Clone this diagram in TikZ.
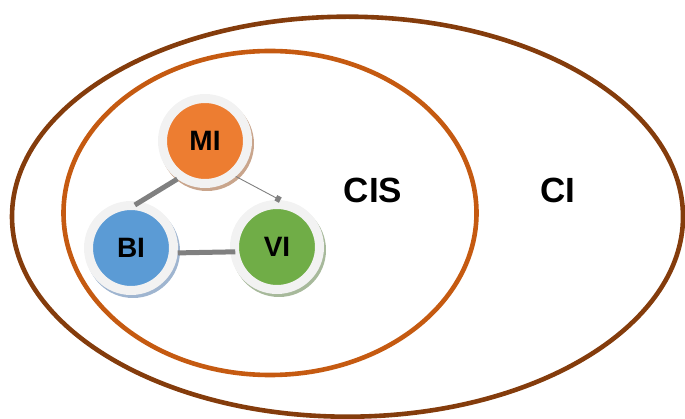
\documentclass[tikz,border=0pt]{standalone}
\usepackage{fontspec}
\setmainfont{Liberation Sans}
\usetikzlibrary{backgrounds,arrows.meta}
\definecolor{outerbrown}{HTML}{843C0C}
\definecolor{innerorange}{HTML}{C55A11}
\definecolor{miorange}{HTML}{ED7D31}
\definecolor{biblue}{HTML}{5B9BD5}
\definecolor{vigreen}{HTML}{70AD47}
\definecolor{ringgray}{HTML}{F2F2F2}
\definecolor{linkgray}{HTML}{808080}
\definecolor{mishade}{HTML}{C9A58C}
\definecolor{bishade}{HTML}{9FB5D0}
\definecolor{vishade}{HTML}{A7B99B}
\tikzset{
  setline/.style={line width=4.6pt},
  bubble/.style={circle, inner sep=0pt, minimum size=85pt, draw=ringgray,
    line width=9pt, text=black, font=\bfseries\fontsize{28}{28}\selectfont},
  biglabel/.style={font=\bfseries\fontsize{35}{35}\selectfont, text=black},
  thicklink/.style={draw=linkgray, line width=5pt},
  thinlink/.style={draw=linkgray, line width=0.9pt}
}
\begin{document}
\begin{tikzpicture}[x=1pt,y=-1pt]
  \useasboundingbox (0,0) rectangle (685,419);

  % nested sets
  \draw[setline, outerbrown] (347.5,216.7) ellipse [x radius=335.5pt, y radius=200pt];
  \draw[setline, innerorange] (270,213) ellipse [x radius=206.5pt, y radius=162pt];

  \node[biglabel] (cis) at (373,190) {CIS};
  \node[biglabel] (ci) at (557.5,190) {CI};

  % the three sub-indices
  \node[bubble, fill=miorange] (mi) at (205,141) {MI};
  \node[bubble, fill=biblue] (bi) at (131,248) {BI};
  \node[bubble, fill=vigreen] (vi) at (277,247) {VI};

  % soft tinted shadows behind the rings
  \begin{scope}[on background layer]
    \fill[mishade] ([shift={(2pt,-3pt)}]mi.center) circle (47pt);
    \fill[bishade] ([shift={(2pt,-3pt)}]bi.center) circle (47pt);
    \fill[vishade] ([shift={(2pt,-3pt)}]vi.center) circle (47pt);
  \end{scope}

  % links
  \draw[thicklink, shorten >=-6pt] (mi.234) -- (bi.79);
  \draw[thicklink, shorten >=-5pt] (bi.-6) -- (vi.186);
  \draw[thinlink, -{Square[length=5pt,width=6pt]}] (mi.311) -- (vi.86);
\end{tikzpicture}
\end{document}
